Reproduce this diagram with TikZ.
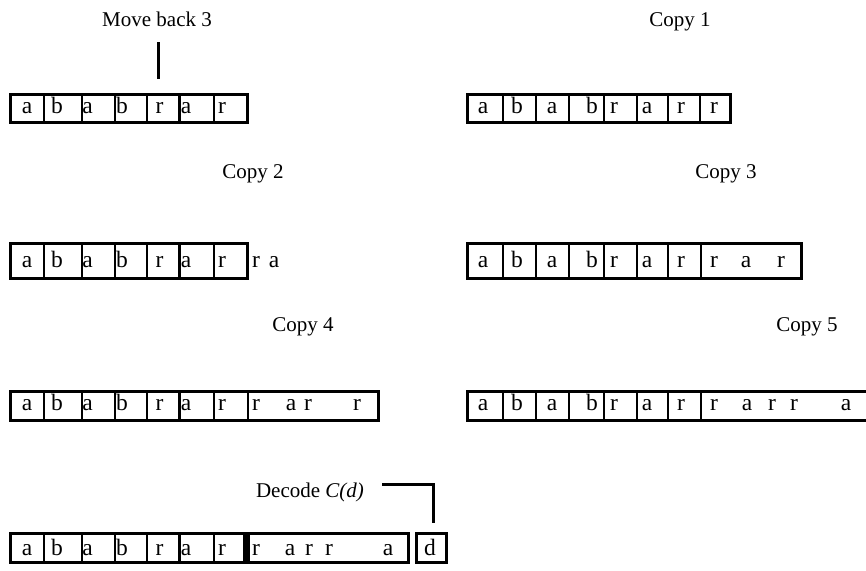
\documentclass[tikz,border=0pt]{standalone}
\usepackage{fontspec}
\setmainfont{Liberation Serif}
\begin{document}
\begin{tikzpicture}[x=1pt,y=-1pt,
 outer/.style={line width=3pt},
 div/.style={line width=2.6pt},
 bar/.style={fill=black},
 ch/.style={anchor=base,inner sep=0pt,font=\fontsize{23.5}{27}\selectfont},
 ttl/.style={anchor=base,inner sep=0pt,font=\fontsize{21}{25}\selectfont},
 lnk/.style={line width=3pt}]
\clip (0,0) rectangle (866,570);
% ---------- titles ----------
\node[ttl] (t0) at (157,26.7) {Move back 3};
\node[ttl] (t1) at (680,26.7) {Copy 1};
\node[ttl] (t2) at (253,178) {Copy 2};
\node[ttl] (t3) at (726,178) {Copy 3};
\node[ttl] (t4) at (303,331) {Copy 4};
\node[ttl] (t5) at (807,331) {Copy 5};
\node[ttl] (t6) at (310,497) {Decode \textit{C(d)}};
% ---------- pointer lines ----------
\coordinate (mb1) at (158,42);
\coordinate (mb2) at (158,79);
\draw[lnk] (mb1) -- (mb2);
\coordinate (dk) at (382,484.5);
\coordinate (dtop) at (433,523);
\draw[lnk] (dk) -| (dtop);
% ---------- row 1 left ----------
\draw[outer] (10,94) rectangle (247.5,122.5);
\foreach \d in {44,82,115,147,179.5,214} \draw[div] (\d,94) -- (\d,122.5);
\foreach \xx/\c [count=\i] in {27/a,57/b,87.5/a,122/b,159.5/r,186/a,222/r}
  \node[ch] (a\i) at (\xx,113.5) {\c};
% ---------- row 1 right ----------
\draw[outer] (467,94) rectangle (730,122.5);
\foreach \d in {503,536,569,604,637,668,700} \draw[div] (\d,94) -- (\d,122.5);
\foreach \xx/\c [count=\i] in {483/a,517/b,552/a,592/b,614/r,647/a,681/r,714/r}
  \node[ch] (b\i) at (\xx,113.5) {\c};
% ---------- row 2 left ----------
\draw[outer] (10,243) rectangle (247.5,278);
\foreach \d in {44,82,115,147,179.5,214} \draw[div] (\d,243) -- (\d,278);
\foreach \xx/\c [count=\i] in {27/a,57/b,87.5/a,122/b,159.5/r,186/a,222/r,256/r,274/a}
  \node[ch] (c\i) at (\xx,267) {\c};
% ---------- row 2 right ----------
\draw[outer] (467,243) rectangle (801.5,278);
\foreach \d in {503,536,569,604,637,668,701} \draw[div] (\d,243) -- (\d,278);
\foreach \xx/\c [count=\i] in {483/a,517/b,552/a,592/b,614/r,647/a,681/r,714/r,746/a,781/r}
  \node[ch] (d\i) at (\xx,267) {\c};
% ---------- row 3 left ----------
\draw[outer] (10,391.5) rectangle (378.5,420);
\foreach \d in {44,82,115,147,179.5,214,248} \draw[div] (\d,391.5) -- (\d,420);
\foreach \xx/\c [count=\i] in {27/a,57/b,87.5/a,122/b,159.5/r,186/a,222/r,256/r,291/a,308/r,357/r}
  \node[ch] (e\i) at (\xx,410) {\c};
% ---------- row 3 right ----------
\draw[outer] (467,391.5) rectangle (880,420);
\foreach \d in {503,536,569,604,637,668,701} \draw[div] (\d,391.5) -- (\d,420);
\foreach \xx/\c [count=\i] in {483/a,517/b,552/a,592/b,614/r,647/a,681/r,714/r,747/a,772/r,794/r,846/a}
  \node[ch] (f\i) at (\xx,410) {\c};
% ---------- row 4 ----------
\draw[outer] (10,533) rectangle (408.5,562);
\foreach \d in {44,82,115,147,179.5,214} \draw[div] (\d,533) -- (\d,562);
\fill[bar] (243,533) rectangle (250,562);
\foreach \xx/\c [count=\i] in {27/a,57/b,87.5/a,122/b,159.5/r,186/a,222/r,256/r,290/a,309/r,329/r,388/a}
  \node[ch] (g\i) at (\xx,555) {\c};
\draw[outer] (416.5,533) rectangle (446.5,562);
\node[ch] (gd) at (430,555) {d};
\end{tikzpicture}
\end{document}
